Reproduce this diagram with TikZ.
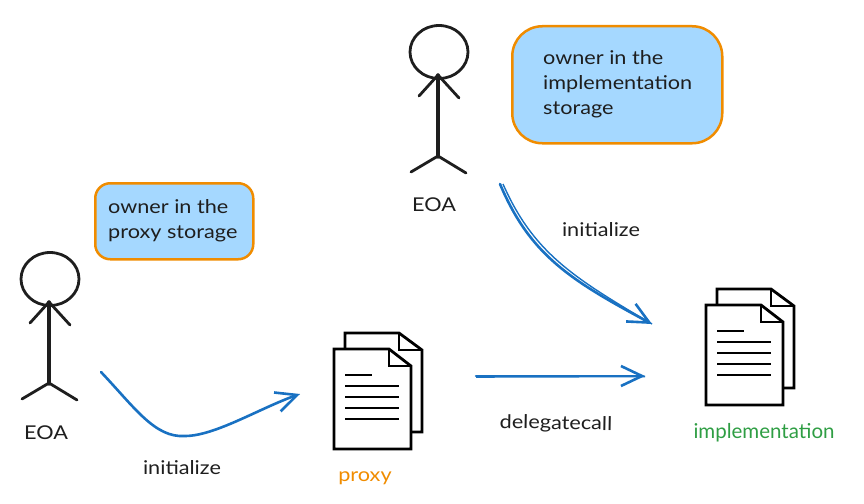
\documentclass[tikz,border=0pt]{standalone}
\usepackage{fontspec}
\setmainfont{Lato}
\newfontfamily\handfont{Lato}[FakeStretch=1.14]
\usetikzlibrary{arrows.meta}
\definecolor{ink}{HTML}{1E1E1E}
\definecolor{bluearrow}{HTML}{1971C2}
\definecolor{orangeink}{HTML}{F08C00}
\definecolor{notefill}{HTML}{A5D8FF}
\definecolor{greenink}{HTML}{2F9E44}
\tikzset{
  x=1pt,y=-1pt,
  hand/.style={font=\handfont\fontsize{19}{25}\selectfont,text=ink,inner sep=0pt},
  notetext/.style={hand,align=left,anchor=north west},
  notebox/.style={draw=orangeink,fill=notefill,line width=2.5pt,inner sep=0pt,anchor=north west},
  stick/.style={draw=ink,line width=2.8pt,line cap=round,line join=round},
  flow/.style={draw=bluearrow,line width=2.6pt,line cap=round,-{Straight Barb[length=21pt,width=20pt,line width=2.6pt]}},
  docline/.style={draw=black,line width=2.8pt,line join=miter},
  pics/docs/.style={code={
    \draw[docline,fill=white] (11,-16) -- (65,-16) -- (88,1) -- (88,83) -- (11,83) -- cycle;
    \draw[docline] (65,-16) -- (65,1) -- (88,1);
    \draw[docline,fill=white] (0,0) -- (55,0) -- (77,17) -- (77,100) -- (0,100) -- cycle;
    \draw[docline] (55,0) -- (55,17) -- (77,17);
    \draw[docline] (11,26) -- (38,26);
    \foreach \yy in {37,48,59,70}{\draw[docline] (11,\yy) -- (65,\yy);}
  }},
  pics/person/.style={code={
    \draw[stick] (1,-23) ellipse[x radius=29,y radius=26.5];
    \draw[stick,line width=3.4pt] (0,0) -- (0,82);
    \draw[stick] (-19,21) -- (0,0) -- (21,23);
    \draw[stick] (-27,97) -- (0,81) -- (28,98);
  }}
}
\begin{document}
\begin{tikzpicture}
\useasboundingbox (0,0) rectangle (864,503);
% notes
\node[notebox,minimum width=158pt,minimum height=76pt,rounded corners=15pt] (note1) at (94,182) {};
\node[notebox,minimum width=210pt,minimum height=117pt,rounded corners=30pt] (note2) at (511,25) {};
\node[notetext] (note1text) at (108,199) {owner in the\\proxy storage};
\node[notetext] (note2text) at (543,50) {owner in the\\implementation\\storage};
% people
\pic at (49,302) {person};
\pic at (438,75) {person};
\node[hand] (eoa1) at (46,433) {EOA};
\node[hand] (eoa2) at (434,205) {EOA};
% documents
\pic at (334,349) {docs};
\pic at (706,305) {docs};
\node[font=\handfont\fontsize{19}{25}\selectfont,text=orangeink,inner sep=0pt] (proxy) at (365,478) {proxy};
\node[font=\fontsize{20.5}{25}\selectfont,text=greenink,inner sep=0pt] (impl) at (764,433) {implementation};
% connector ends
\coordinate (a1s) at (101,372);
\coordinate (a1e) at (300,394);
\coordinate (a2s) at (500,184);
\coordinate (a2e) at (652,324);
\coordinate (a3s) at (476,376);
\coordinate (a3e) at (645,376);
\draw[flow] (a1s) .. controls (135,408) and (155,438) .. (185,436) .. controls (215,436) and (260,408) .. (a1e);
\draw[flow] (a2s) .. controls (530,255) and (570,280) .. (a2e);
\draw[bluearrow,line width=1.4pt] ([xshift=3pt]a2s) .. controls (533,252) and (572,277) .. (a2e);
\draw[flow] (a3s) -- (a3e);
\draw[bluearrow,line width=1.6pt] ([yshift=-1pt]a3s) -- ([yshift=-0.5pt]a3e);
% labels
\node[hand] (init1) at (182,468) {initialize};
\node[hand] (init2) at (601,230) {initialize};
\node[hand,rotate=-1] (dcall) at (556,424) {delegatecall};
\end{tikzpicture}
\end{document}
